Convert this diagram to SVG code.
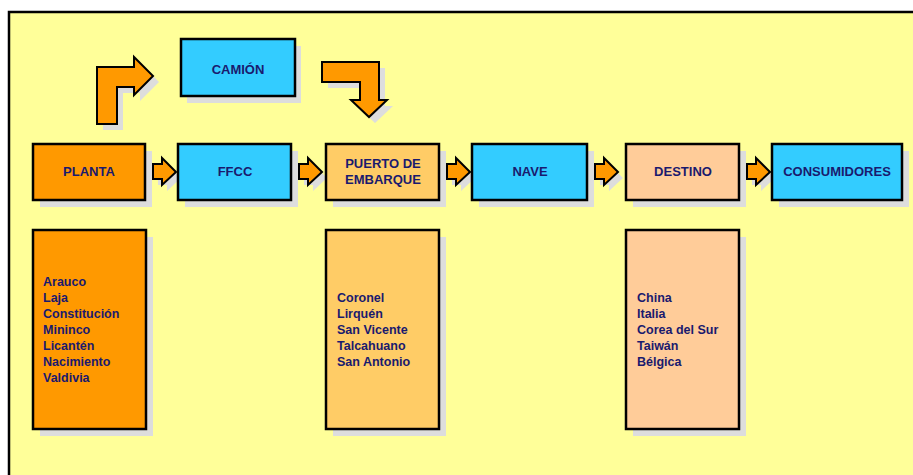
<svg xmlns="http://www.w3.org/2000/svg" width="913" height="475" viewBox="0 0 913 475">
<defs>
<style>
.box{stroke:#000;stroke-width:2.5}
.sh{fill:#DDDDDD}
.arr{fill:#FF9900;stroke:#000;stroke-width:2;stroke-linejoin:miter}
.ash{fill:#DDDDDD}
.lbl{font-family:"Liberation Sans",Arial,sans-serif;font-weight:bold;font-size:13px;fill:#1A1A6E;text-anchor:middle}
.lst{font-family:"Liberation Sans",Arial,sans-serif;font-weight:bold;font-size:12.5px;fill:#1A1A6E}
.blue{fill:#33CCFF}
.orange{fill:#FF9900}
.gold{fill:#FFCC66}
.peach{fill:#FFCC99}
</style>
<polygon id="sa" points="0,0 9,0 9,-6 23,8 9,21 9,15 0,15"/>
</defs>
<rect x="9" y="12" width="904" height="463" fill="#FFFF99"/>
<path d="M9,475 V12 H913" fill="none" stroke="#000" stroke-width="2.5"/>

<g id="connectors">
<polygon class="ash" points="103,130 103,73 140,73 140,63 159,82 140,101 140,93 123,93 123,130"/>
<polygon class="arr" points="97,124 97,67 134,67 134,57 153,76 134,95 134,87 117,87 117,124"/>
<polygon class="ash" points="328,68 385,68 385,106 393,106 375,123 357,106 366,106 366,88 328,88"/>
<polygon class="arr" points="322,62 379,62 379,100 387,100 369,117 351,100 360,100 360,82 322,82"/>
<g transform="translate(158,170)"><use href="#sa" class="ash"/></g>
<g transform="translate(153,164)"><use href="#sa" class="arr"/></g>
<g transform="translate(304,170)"><use href="#sa" class="ash"/></g>
<g transform="translate(299,164)"><use href="#sa" class="arr"/></g>
<g transform="translate(452,170)"><use href="#sa" class="ash"/></g>
<g transform="translate(447,164)"><use href="#sa" class="arr"/></g>
<g transform="translate(600,170)"><use href="#sa" class="ash"/></g>
<g transform="translate(595,164)"><use href="#sa" class="arr"/></g>
<g transform="translate(752,170)"><use href="#sa" class="ash"/></g>
<g transform="translate(747,164)"><use href="#sa" class="arr"/></g>
</g>

<g id="camion">
<rect class="sh" x="187" y="46" width="114" height="57"/>
<rect class="box blue" x="181" y="39" width="114" height="57"/>
<text class="lbl" x="238" y="74">CAMIÓN</text>
</g>

<g id="planta">
<rect class="sh" x="40" y="151" width="112" height="56"/>
<rect class="box orange" x="33" y="144" width="112" height="56"/>
<text class="lbl" x="89" y="176">PLANTA</text>
</g>
<g id="ffcc">
<rect class="sh" x="185" y="151" width="113" height="56"/>
<rect class="box blue" x="178" y="144" width="113" height="56"/>
<text class="lbl" x="235" y="176">FFCC</text>
</g>
<g id="puerto">
<rect class="sh" x="333" y="151" width="113" height="56"/>
<rect class="box gold" x="326" y="144" width="113" height="56"/>
<text class="lbl" x="383" y="168">PUERTO DE</text>
<text class="lbl" x="383" y="184">EMBARQUE</text>
</g>
<g id="nave">
<rect class="sh" x="479" y="151" width="115" height="56"/>
<rect class="box blue" x="472" y="144" width="115" height="56"/>
<text class="lbl" x="530" y="176">NAVE</text>
</g>
<g id="destino">
<rect class="sh" x="633" y="151" width="113" height="56"/>
<rect class="box peach" x="626" y="144" width="113" height="56"/>
<text class="lbl" x="683" y="176">DESTINO</text>
</g>
<g id="consumidores">
<rect class="sh" x="779" y="151" width="130" height="56"/>
<rect class="box blue" x="772" y="144" width="130" height="56"/>
<text class="lbl" x="837" y="176">CONSUMIDORES</text>
</g>

<g id="plantas-lista">
<rect class="sh" x="40" y="237" width="113" height="199"/>
<rect class="box orange" x="33" y="230" width="113" height="199"/>
<text class="lst" x="43" y="286">Arauco</text>
<text class="lst" x="43" y="302">Laja</text>
<text class="lst" x="43" y="318">Constitución</text>
<text class="lst" x="43" y="334">Mininco</text>
<text class="lst" x="43" y="350">Licantén</text>
<text class="lst" x="43" y="366">Nacimiento</text>
<text class="lst" x="43" y="382">Valdivia</text>
</g>
<g id="puertos-lista">
<rect class="sh" x="333" y="237" width="113" height="199"/>
<rect class="box gold" x="326" y="230" width="113" height="199"/>
<text class="lst" x="337" y="302">Coronel</text>
<text class="lst" x="337" y="318">Lirquén</text>
<text class="lst" x="337" y="334">San Vicente</text>
<text class="lst" x="337" y="350">Talcahuano</text>
<text class="lst" x="337" y="366">San Antonio</text>
</g>
<g id="destinos-lista">
<rect class="sh" x="633" y="237" width="113" height="199"/>
<rect class="box peach" x="626" y="230" width="113" height="199"/>
<text class="lst" x="637" y="302">China</text>
<text class="lst" x="637" y="318">Italia</text>
<text class="lst" x="637" y="334">Corea del Sur</text>
<text class="lst" x="637" y="350">Taiwán</text>
<text class="lst" x="637" y="366">Bélgica</text>
</g>
</svg>
